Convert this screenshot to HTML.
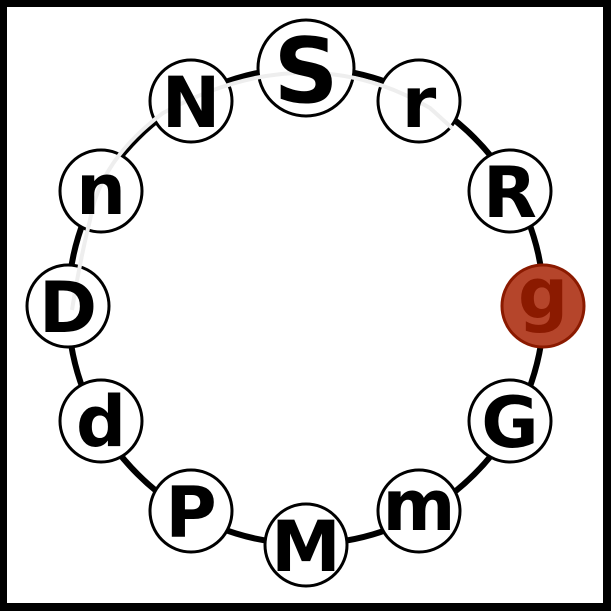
<!DOCTYPE html>
<html><head><style>body{margin:0;background:#fff}svg{display:block}</style></head>
<body>
<svg width="612" height="612" viewBox="0 0 612 612" xmlns="http://www.w3.org/2000/svg">
<rect x="3" y="3" width="604" height="604" fill="#fff" stroke="#000" stroke-width="8"/>
<circle cx="306" cy="306" r="238" fill="none" stroke="#000" stroke-width="6"/>
<g font-family="DejaVu Sans, sans-serif" font-weight="bold" text-anchor="middle" stroke-width="3">
<g fill="#fff" stroke="#000">
<circle cx="306" cy="68" r="48"/>
<circle cx="191" cy="101" r="41"/>
<circle cx="419" cy="101" r="41"/>
<circle cx="101" cy="191" r="41"/>
<circle cx="510" cy="191" r="41"/>
<circle cx="68" cy="306" r="41"/>
<circle cx="101" cy="421" r="41"/>
<circle cx="510" cy="421" r="41"/>
<circle cx="191" cy="511" r="41"/>
<circle cx="419" cy="511" r="41"/>
<circle cx="306" cy="545" r="41"/>
</g>
<circle cx="543" cy="306" r="41" fill="#b5452b" stroke="#8b1a00"/>
<path d="M 452 128 L 430 108 Q 306 35 163 113 Q 100 160 90 220 Q 80 260 72 310" fill="none" stroke="#eee" stroke-width="4"/>
<g fill="#000" font-size="70">
<text x="306" y="102" font-size="90">S</text>
<text x="191" y="127">N</text>
<text x="419" y="127">r</text>
<text x="101" y="214">n</text>
<text x="510" y="217">R</text>
<text x="68" y="332">D</text>
<text x="101" y="446">d</text>
<text x="510" y="447">G</text>
<text x="191" y="537">P</text>
<text x="419" y="530">m</text>
<text x="306" y="571">M</text>
<text x="543" y="318" fill="#8b1a00">g</text>
</g>
</g>
</svg>
</body></html>
